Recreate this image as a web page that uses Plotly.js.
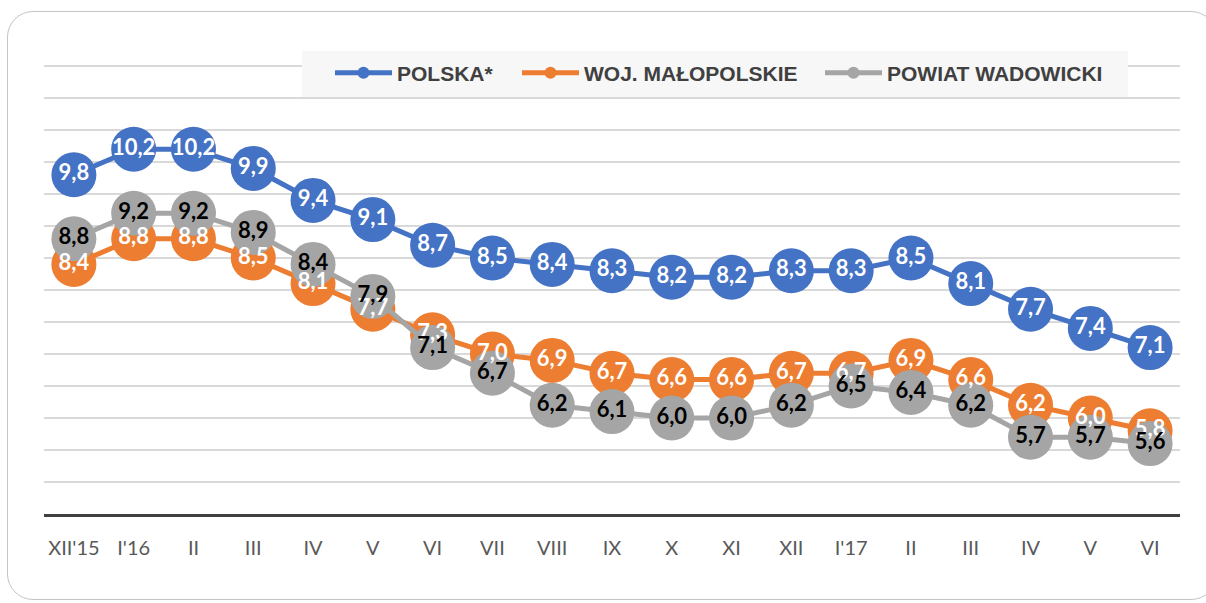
<!DOCTYPE html>
<html>
<head>
<meta charset="utf-8">
<script src="https://cdn.plot.ly/plotly-3.0.1.min.js"></script>
<style>
  html, body { margin: 0; padding: 0; background: #ffffff; overflow: hidden; }
  #wrap { position: relative; width: 1206px; height: 603px; }
  #chart { position: absolute; left: 0; top: 0; width: 1206px; height: 603px; }
  #frame { position: absolute; left: 7px; top: 11px; width: 1210px; height: 589px;
           border: 1.5px solid #c4c4c4; border-radius: 26px; pointer-events: none; box-sizing: border-box; }
</style>
</head>
<body>
<div id="wrap">
  <div id="chart"></div>
  <div id="frame"></div>
</div>
<script>
// ---- data ----
const categories = ["XII'15", "I'16", "II", "III", "IV", "V", "VI", "VII", "VIII", "IX", "X", "XI", "XII", "I'17", "II", "III", "IV", "V", "VI"];
const seriesNames = ["POLSKA*", "WOJ. MAŁOPOLSKIE", "POWIAT WADOWICKI"];
const polska      = [9.8, 10.2, 10.2, 9.9, 9.4, 9.1, 8.7, 8.5, 8.4, 8.3, 8.2, 8.2, 8.3, 8.3, 8.5, 8.1, 7.7, 7.4, 7.1];
const malopolskie = [8.4, 8.8, 8.8, 8.5, 8.1, 7.7, 7.3, 7.0, 6.9, 6.7, 6.6, 6.6, 6.7, 6.7, 6.9, 6.6, 6.2, 6.0, 5.8];
const wadowicki   = [8.8, 9.2, 9.2, 8.9, 8.4, 7.9, 7.1, 6.7, 6.2, 6.1, 6.0, 6.0, 6.2, 6.5, 6.4, 6.2, 5.7, 5.7, 5.6];

// ---- styling ----
const colors = ["#4472C4", "#ED7D31", "#A5A5A5"];
const labelColors = ["#ffffff", "#ffffff", "#000000"];
const legendIds = ["legend", "legend2", "legend3"];
const legendLeft = [330, 517, 820];
const xIdx = categories.map((c, i) => i);
const allSeries = [polska, malopolskie, wadowicki];

const traces = [];
allSeries.forEach((vals, k) => {
  traces.push({
    type: "scatter", mode: "lines+markers", name: seriesNames[k],
    legend: legendIds[k],
    x: xIdx, y: vals,
    line: { color: colors[k], width: 5 },
    marker: { color: colors[k], size: 45 },
    hoverinfo: "skip"
  });
});
allSeries.forEach((vals, k) => {
  traces.push({
    type: "scatter", mode: "text", showlegend: false,
    x: xIdx, y: vals,
    texttemplate: "%{y:.1f}", textposition: "middle center",
    textfont: { family: "Lato", size: 22, weight: 700, color: labelColors[k] },
    hoverinfo: "skip"
  });
});

const L = 44, R = 1180, T = 34, B = 514;
const px = v => (v - L) / (R - L);
const py = v => (B - v) / (B - T);

const layout = {
  width: 1206, height: 603,
  margin: { l: L, r: 1206 - R, t: T, b: 603 - B, pad: 0 },
  paper_bgcolor: "rgba(0,0,0,0)", plot_bgcolor: "rgba(0,0,0,0)",
  separators: ", ",
  showlegend: true,
  xaxis: {
    range: [-0.5, categories.length - 0.5],
    tickmode: "array", tickvals: xIdx, ticktext: categories,
    showgrid: false, zeroline: false,
    showline: true, linecolor: "#404040", linewidth: 3,
    ticks: "", ticklabelstandoff: 14,
    tickfont: { family: "Lato", size: 20, color: "#595959" },
    fixedrange: true
  },
  yaxis: {
    range: [4.5, 12], dtick: 0.5, tick0: 0,
    showticklabels: false, ticks: "",
    showgrid: true, gridcolor: "#d9d9d9", gridwidth: 1.5,
    zeroline: false, showline: false, fixedrange: true
  },
  shapes: [{
    type: "rect", xref: "paper", yref: "paper", layer: "above",
    x0: px(302), x1: px(1128), y0: py(97), y1: py(51),
    fillcolor: "#f7f7f7", line: { width: 0 }
  }]
};
legendIds.forEach((id, k) => {
  layout[id] = {
    orientation: "h", x: px(legendLeft[k]), xanchor: "left", y: py(73), yanchor: "middle",
    bgcolor: "rgba(0,0,0,0)", itemwidth: 57, itemsizing: "constant",
    font: { family: "Liberation Sans", size: 21, weight: 700, color: "#404040" }
  };
});

Plotly.newPlot("chart", traces, layout, { displayModeBar: false, staticPlot: true });
</script>
</body>
</html>
